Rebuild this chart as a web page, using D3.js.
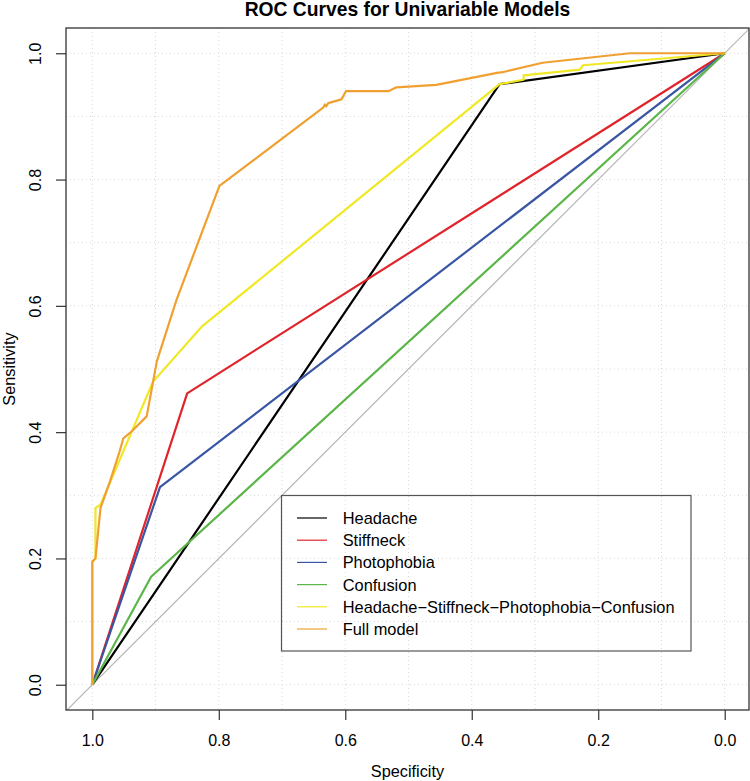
<!DOCTYPE html>
<html>
<head>
<meta charset="utf-8">
<script src="https://cdn.jsdelivr.net/npm/d3@7"></script>
<style>
  html, body { margin: 0; padding: 0; background: #fff; }
  svg text { font-family: "Liberation Sans", Arial, Helvetica, sans-serif; fill: #000; }
</style>
</head>
<body>
<svg id="chart" width="750" height="781"></svg>
<script>
// ---- Data ----
const seriesNames = ["Headache", "Stiffneck", "Photophobia", "Confusion",
  "Headache\u2212Stiffneck\u2212Photophobia\u2212Confusion", "Full model"];
const seriesColors = ["#000000", "#E0242B", "#3A55A4", "#5BB548", "#F0E824", "#F0A030"];

const headacheSpec = [1, 0.356, 0];
const headacheSens = [0, 0.951, 1];
const stiffneckSpec = [1, 0.850, 0];
const stiffneckSens = [0, 0.4615, 1];
const photophobiaSpec = [1, 0.893, 0];
const photophobiaSens = [0, 0.313, 1];
const confusionSpec = [1, 0.907, 0];
const confusionSens = [0, 0.171, 1];
const comboSpec = [1, 1, 0.995, 0.995, 0.987, 0.904, 0.827, 0.356, 0.318, 0.318, 0.229, 0.224, 0];
const comboSens = [0, 0.195, 0.2, 0.280, 0.285, 0.480, 0.567, 0.951, 0.958, 0.965, 0.974, 0.981, 1];
const fullSpec = [1, 1, 0.995, 0.987, 0.972, 0.957, 0.951, 0.938, 0.914, 0.898, 0.867, 0.799,
  0.635, 0.632, 0.630, 0.627, 0.606, 0.599, 0.532, 0.519, 0.456, 0.360, 0.351, 0.288, 0.150, 0];
const fullSens = [0, 0.195, 0.2, 0.280, 0.322, 0.369, 0.390, 0.401, 0.425, 0.512, 0.609, 0.790,
  0.914, 0.919, 0.916, 0.921, 0.927, 0.940, 0.940, 0.946, 0.950, 0.969, 0.970, 0.985, 1.0, 1];

const xTicks = [1.0, 0.8, 0.6, 0.4, 0.2, 0.0];
const yTicks = [0.0, 0.2, 0.4, 0.6, 0.8, 1.0];
const gridTicks = [0, 0.1, 0.2, 0.3, 0.4, 0.5, 0.6, 0.7, 0.8, 0.9, 1.0];

const seriesSpec = [headacheSpec, stiffneckSpec, photophobiaSpec, confusionSpec, comboSpec, fullSpec];
const seriesSens = [headacheSens, stiffneckSens, photophobiaSens, confusionSens, comboSens, fullSens];

// ---- Layout ----
const L = 66, R = 749, T = 28, B = 710;
const svg = d3.select("#chart");
const x = d3.scaleLinear().domain([1.0416, -0.0384]).range([L, R]);
const y = d3.scaleLinear().domain([-0.04, 1.04]).range([B, T]);

svg.append("defs").append("clipPath").attr("id", "clip")
  .append("rect").attr("x", L).attr("y", T).attr("width", R - L).attr("height", B - T);

const plot = svg.append("g").attr("clip-path", "url(#clip)");

// grid
plot.selectAll("line.gx").data(gridTicks).join("line")
  .attr("x1", d => x(d)).attr("x2", d => x(d)).attr("y1", T).attr("y2", B)
  .attr("stroke", "#d9d9d9").attr("stroke-width", 1).attr("stroke-dasharray", "1,3");
plot.selectAll("line.gy").data(gridTicks).join("line")
  .attr("y1", d => y(d)).attr("y2", d => y(d)).attr("x1", L).attr("x2", R)
  .attr("stroke", "#d9d9d9").attr("stroke-width", 1).attr("stroke-dasharray", "1,3");

// diagonal
plot.append("line")
  .attr("x1", x(1.2)).attr("y1", y(-0.2)).attr("x2", x(-0.2)).attr("y2", y(1.2))
  .attr("stroke", "#b5b5b5").attr("stroke-width", 1.2);

// curves
const line = d3.line().x(d => x(d[0])).y(d => y(d[1]));
seriesNames.forEach((name, i) => {
  const pts = seriesSpec[i].map((s, j) => [s, seriesSens[i][j]]);
  plot.append("path").datum(pts)
    .attr("d", line)
    .attr("fill", "none")
    .attr("stroke", seriesColors[i])
    .attr("stroke-width", 2.2)
    .attr("stroke-linejoin", "round");
});

// box
svg.append("rect").attr("x", L).attr("y", T).attr("width", R - L).attr("height", B - T)
  .attr("fill", "none").attr("stroke", "#333").attr("stroke-width", 1.3);

// axes
const fmt = d3.format(".1f");
const xAxis = svg.append("g").attr("transform", `translate(0,${B})`)
  .call(d3.axisBottom(x).tickValues(xTicks).tickFormat(fmt).tickSize(10).tickPadding(15));
xAxis.select(".domain").remove();
xAxis.selectAll("line").attr("stroke", "#333").attr("stroke-width", 1.2);
xAxis.selectAll("text").attr("font-size", 16).attr("font-family", "Liberation Sans, Arial, sans-serif");

const yAxis = svg.append("g").attr("transform", `translate(${L},0)`)
  .call(d3.axisLeft(y).tickValues(yTicks).tickFormat(fmt).tickSize(10));
yAxis.select(".domain").remove();
yAxis.selectAll("line").attr("stroke", "#333").attr("stroke-width", 1.2);
yAxis.selectAll("text")
  .attr("font-size", 16).attr("font-family", "Liberation Sans, Arial, sans-serif")
  .attr("x", null).attr("dy", null)
  .attr("text-anchor", "middle")
  .attr("transform", "translate(-25,0) rotate(-90)");

// titles
svg.append("text").attr("x", (L + R) / 2).attr("y", 16).attr("text-anchor", "middle")
  .attr("font-size", 19.3).attr("font-weight", "bold").text("ROC Curves for Univariable Models");
svg.append("text").attr("x", (L + R) / 2).attr("y", 777).attr("text-anchor", "middle")
  .attr("font-size", 16.3).text("Specificity");
svg.append("text").attr("transform", `translate(15,${(T + B) / 2}) rotate(-90)`)
  .attr("text-anchor", "middle").attr("font-size", 16.3).text("Sensitivity");

// legend
const lg = svg.append("g");
lg.append("rect").attr("x", 281.5).attr("y", 495.5).attr("width", 409.5).attr("height", 155.5)
  .attr("fill", "none").attr("stroke", "#555").attr("stroke-width", 1.2);
seriesNames.forEach((name, i) => {
  const cy = 518 + i * 22.2;
  lg.append("line").attr("x1", 297).attr("x2", 327).attr("y1", cy).attr("y2", cy)
    .attr("stroke", seriesColors[i]).attr("stroke-width", 1.2);
  lg.append("text").attr("x", 342.7).attr("y", cy).attr("dy", "0.36em")
    .attr("font-size", 16.4).text(name);
});
</script>
</body>
</html>
